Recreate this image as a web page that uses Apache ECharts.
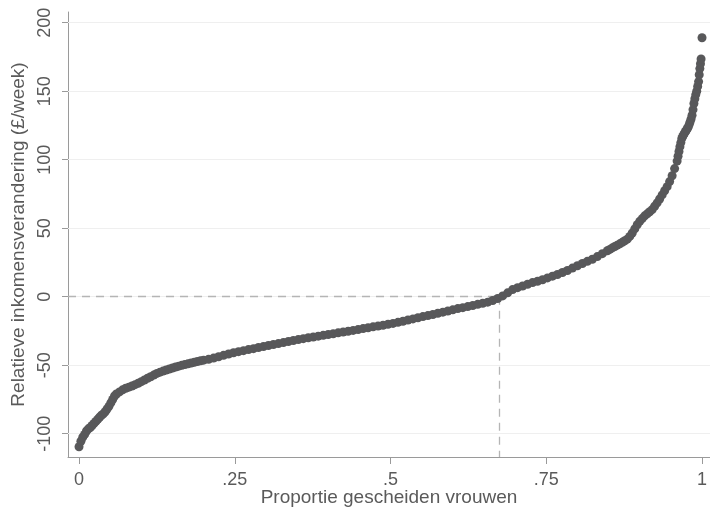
<!DOCTYPE html>
<html>
<head>
<meta charset="utf-8">
<script src="https://cdn.jsdelivr.net/npm/echarts@6/dist/echarts.min.js"></script>
<style>
html,body{margin:0;padding:0;background:#fff;}
#chart{width:710px;height:510px;}
</style>
</head>
<body>
<div id="chart"></div>
<script>
// Quantile plot: [proportion of divorced women, relative income change (£/week)]
const leftTail = [
  [0,-109.5],[0.003,-105.5],[0.006,-102.5],[0.009,-100.5],[0.012,-98],[0.015,-96.5],[0.018,-95.5],
  [0.021,-94],[0.024,-92.5],[0.027,-91],[0.030,-89.5],[0.033,-88],[0.036,-86.5],[0.039,-85.5],
  [0.042,-84],[0.045,-82],[0.048,-80],[0.051,-77.5],[0.054,-75],[0.057,-72.5],[0.060,-71],
  [0.065,-69.5],[0.070,-68],[0.075,-66.8],[0.080,-66],[0.085,-65.2],[0.090,-64.2],[0.095,-63.2],
  [0.100,-62],[0.105,-60.8],[0.110,-59.5],[0.115,-58.4],[0.120,-57.2],[0.125,-56],[0.130,-55.1],
  [0.135,-54.3],[0.140,-53.5],[0.145,-52.8],[0.150,-52],[0.155,-51.3],[0.160,-50.7],[0.165,-50.1],
  [0.170,-49.5],[0.175,-49],[0.180,-48.4],[0.185,-47.9],[0.190,-47.3],[0.195,-46.8],[0.200,-46.3]
];
const middle = [
  [0.208,-45.7],[0.216,-44.8],[0.224,-43.8],[0.232,-42.8],[0.240,-41.8],[0.248,-40.9],
  [0.256,-40.1],[0.264,-39.4],[0.272,-38.6],[0.280,-37.9],[0.288,-37.1],[0.296,-36.4],
  [0.304,-35.6],[0.312,-34.9],[0.320,-34.2],[0.328,-33.5],[0.336,-32.7],[0.344,-32],[0.352,-31.3],
  [0.360,-30.6],[0.368,-30],[0.376,-29.4],[0.384,-28.8],[0.392,-28.2],[0.400,-27.6],[0.408,-27],
  [0.416,-26.4],[0.424,-25.8],[0.432,-25.2],[0.440,-24.6],[0.448,-24],[0.456,-23.3],[0.464,-22.7],
  [0.472,-22],[0.480,-21.4],[0.488,-20.8],[0.496,-20.1],[0.504,-19.5],
  [0.512,-18.7],[0.520,-17.9],[0.528,-17],[0.536,-16.2],[0.544,-15.4],[0.552,-14.5],
  [0.560,-13.8],[0.568,-13],[0.576,-12.1],[0.584,-11.3],[0.592,-10.4],[0.600,-9.6],[0.608,-8.7],
  [0.616,-8],[0.624,-7.2],[0.632,-6.4],[0.640,-5.6],[0.648,-4.8],[0.656,-4],
  [0.664,-2.8],[0.672,-1.3],[0.680,0.6],[0.688,2.8],[0.696,5.2],
  [0.704,6.6],[0.712,7.8],[0.720,9.1],[0.728,10.3],
  [0.736,11.3],[0.744,12.4],[0.752,13.7],[0.760,15],[0.768,16.2],
  [0.776,17.7],[0.784,19.1],[0.792,20.9],[0.800,22.6],[0.808,24.2],[0.816,25.8],[0.824,27.3],
  [0.832,29.3],[0.840,31.4],[0.848,33.5]
];
const rightTail = [
  [0.852,34.5],[0.856,35.6],[0.860,36.6],[0.864,37.6],[0.868,38.6],[0.872,39.7],[0.876,40.8],
  [0.880,42],[0.884,44],[0.888,46.5],[0.892,49.5],[0.896,52.5],[0.900,55],[0.904,57],[0.908,59],
  [0.912,60.5],[0.916,62],[0.920,63.6],[0.924,66],[0.928,68.5],[0.932,71.3],[0.936,74.3],
  [0.940,77.3],[0.944,80.3],[0.948,84],[0.952,88.3],[0.956,93.5],[0.960,99],
  [0.9615,102.5],[0.9630,106],[0.9645,109.5],[0.9660,112.5],[0.9675,115.5],[0.9690,117],
  [0.9705,118.3],[0.9720,119.5],[0.9735,120.6],[0.9750,121.7],[0.9765,122.8],[0.9780,124],
  [0.9795,125.8],[0.9810,127.8],[0.9825,129.8],[0.9840,132.5],[0.9855,136.5],[0.9870,141],
  [0.9885,144.5],[0.9900,147.5],[0.9915,150],[0.9930,153.5],[0.9945,157],[0.9955,162],
  [0.9965,166.5],[0.9975,170],[0.9985,173.5],[1.0000,189]
];

const xTickValues = [0, 0.25, 0.5, 0.75, 1];
const xTickLabels = ['0', '.25', '.5', '.75', '1'];
const yTickValues = [-100, -50, 0, 50, 100, 150, 200];
const zeroCrossing = 0.674;   // proportion where income change turns positive
const xRange = [-0.0177, 1.0128];
const yRange = [-117.0, 207.8];

const xTitle = 'Proportie gescheiden vrouwen';
const yTitle = 'Relatieve inkomensverandering (£/week)';

const FONT = '"Liberation Sans", Arial, Helvetica, sans-serif';
const TEXT = '#5a5a5a';
const AXIS = '#9a9a9a';

const chart = echarts.init(document.getElementById('chart'), null, {renderer: 'canvas'});
chart.setOption({
  animation: false,
  backgroundColor: '#ffffff',
  grid: {left: 68, right: 0, top: 12, bottom: 53, containLabel: false, outerBoundsMode: 'none'},
  xAxis: {
    type: 'value', min: xRange[0], max: xRange[1],
    name: xTitle, nameLocation: 'middle', nameGap: 31, nameMoveOverlap: false,
    nameTextStyle: {color: TEXT, fontSize: 19, fontFamily: FONT},
    axisLine: {show: true, onZero: false, lineStyle: {color: AXIS, width: 1}},
    axisTick: {show: true, length: 7, lineStyle: {color: AXIS}, customValues: xTickValues},
    axisLabel: {
      color: TEXT, fontSize: 18, fontFamily: FONT, margin: 14,
      customValues: xTickValues,
      formatter: v => xTickLabels[xTickValues.indexOf(v)] ?? ''
    },
    splitLine: {show: false}
  },
  yAxis: {
    type: 'value', min: yRange[0], max: yRange[1],
    name: yTitle, nameLocation: 'middle', nameGap: 40, nameRotate: 90, nameMoveOverlap: false,
    nameTextStyle: {color: TEXT, fontSize: 19, fontFamily: FONT},
    axisLine: {show: true, onZero: false, lineStyle: {color: AXIS, width: 1}},
    axisTick: {show: true, length: 6, lineStyle: {color: AXIS}, customValues: yTickValues},
    axisLabel: {
      color: TEXT, fontSize: 18, fontFamily: FONT, rotate: 90, margin: 14,
      customValues: yTickValues
    },
    splitLine: {show: false}
  },
  series: [
    {
      type: 'scatter',
      name: 'grid',
      data: [],
      silent: true,
      z: 1,
      markLine: {
        silent: true, symbol: 'none', animation: false,
        label: {show: false},
        lineStyle: {color: '#efefef', width: 1.2, type: 'solid'},
        data: yTickValues.map(v => ({yAxis: v}))
      }
    },
    {
      type: 'scatter',
      name: 'reference',
      data: [],
      silent: true,
      z: 2,
      markLine: {
        silent: true, symbol: 'none', animation: false,
        label: {show: false},
        lineStyle: {color: '#b5b5b5', width: 1.3, type: [8, 6]},
        data: [
          [{coord: [xRange[0], 0]}, {coord: [zeroCrossing, 0]}],
          [{coord: [zeroCrossing, 0]}, {coord: [zeroCrossing, yRange[0]]}]
        ]
      }
    },
    {
      type: 'scatter',
      name: 'Relatieve inkomensverandering',
      data: leftTail.concat(middle, rightTail),
      symbol: 'circle',
      symbolSize: 9,
      itemStyle: {color: '#58585a', opacity: 1},
      z: 5
    }
  ]
});
</script>
</body>
</html>
